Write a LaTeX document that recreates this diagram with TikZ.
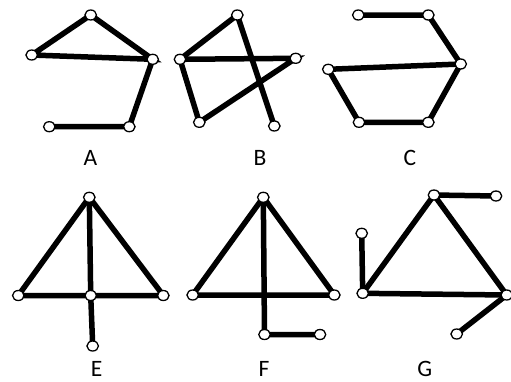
\documentclass[tikz,border=0pt]{standalone}
\usepackage{fontspec}
\setmainfont{Carlito}
\usetikzlibrary{shapes.geometric,backgrounds}
\begin{document}
\begin{tikzpicture}[x=1pt,y=-1pt,
  vtx/.style={ellipse,draw=black,fill=white,line width=1.3pt,minimum width=11.5pt,minimum height=10pt,inner sep=0pt},
  edge/.style={line width=5.5pt},
  lbl/.style={anchor=base,font=\fontsize{23.5}{24}\selectfont,inner sep=0pt}]
\useasboundingbox (0,0) rectangle (511,381);
% A
\node[vtx] (a1) at (90.7,15) {};
\node[vtx] (a2) at (31.7,55) {};
\node[vtx] (a3) at (152.7,59.3) {};
\node[vtx] (a4) at (129.3,126.7) {};
\node[vtx] (a5) at (49.3,126.7) {};
\node[lbl] (la) at (90.5,165) {A};
% B
\node[vtx] (b1) at (237.3,15) {};
\node[vtx] (b2) at (180,59.3) {};
\node[vtx] (b3) at (295.7,58.3) {};
\node[vtx] (b4) at (199.3,122.3) {};
\node[vtx] (b5) at (274.3,126) {};
\node[lbl] (lb) at (260,165) {B};
% C
\node[vtx] (c1) at (358.3,15) {};
\node[vtx] (c2) at (428.3,15) {};
\node[vtx] (c3) at (460.7,64) {};
\node[vtx] (c4) at (328.3,69.3) {};
\node[vtx] (c5) at (359,122.3) {};
\node[vtx] (c6) at (428.3,122.3) {};
\node[lbl] (lc) at (410,165) {C};
% E
\node[vtx] (e1) at (89.3,197.3) {};
\node[vtx] (e2) at (18.3,295.5) {};
\node[vtx] (e3) at (90.7,295.5) {};
\node[vtx] (e4) at (163.3,295.5) {};
\node[vtx] (e5) at (92.7,346) {};
\node[lbl] (le) at (96.7,376) {E};
% F
\node[vtx] (f1) at (263.3,197.3) {};
\node[vtx] (f2) at (192.7,295) {};
\node[vtx] (f3) at (334.3,295) {};
\node[vtx] (f4) at (264.5,334.5) {};
\node[vtx] (f5) at (320,334.5) {};
\node[lbl] (lf) at (264,376) {F};
% G
\node[vtx] (g1) at (434,195) {};
\node[vtx] (g2) at (496,196) {};
\node[vtx] (g3) at (361.7,233.3) {};
\node[vtx] (g4) at (362.7,293.3) {};
\node[vtx] (g5) at (506.7,295) {};
\node[vtx] (g6) at (456.7,334) {};
\node[lbl] (lg) at (424.7,376.3) {G};
\begin{scope}[on background layer]
\draw[edge] (a2.center) -- (a1.center) -- (a3.center) -- (a2.center);
\draw[edge] (a3.center) -- (a4.center) -- (a5.center);
\draw[edge] (b2.center) -- (b1.center) -- (b5.center);
\draw[edge] (b2.center) -- (b3.center) -- (b4.center) -- (b2.center);
\draw[edge] (c1.center) -- (c2.center) -- (c3.center) -- (c4.center) -- (c5.center) -- (c6.center) -- (c3.center);
\draw[edge] (e2.center) -- (e1.center) -- (e4.center) -- (e2.center);
\draw[edge] (e1.center) -- (e3.center) -- (e5.center);
\draw[edge] (f2.center) -- (f1.center) -- (f3.center) -- (f2.center);
\draw[edge] (f1.center) -- (f4.center) -- (f5.center);
\draw[edge] (g2.center) -- (g1.center) -- (g4.center) -- (g5.center) -- (g1.center);
\draw[edge] (g3.center) -- (g4.center);
\draw[edge] (g5.center) -- (g6.center);
\end{scope}
\end{tikzpicture}
\end{document}
